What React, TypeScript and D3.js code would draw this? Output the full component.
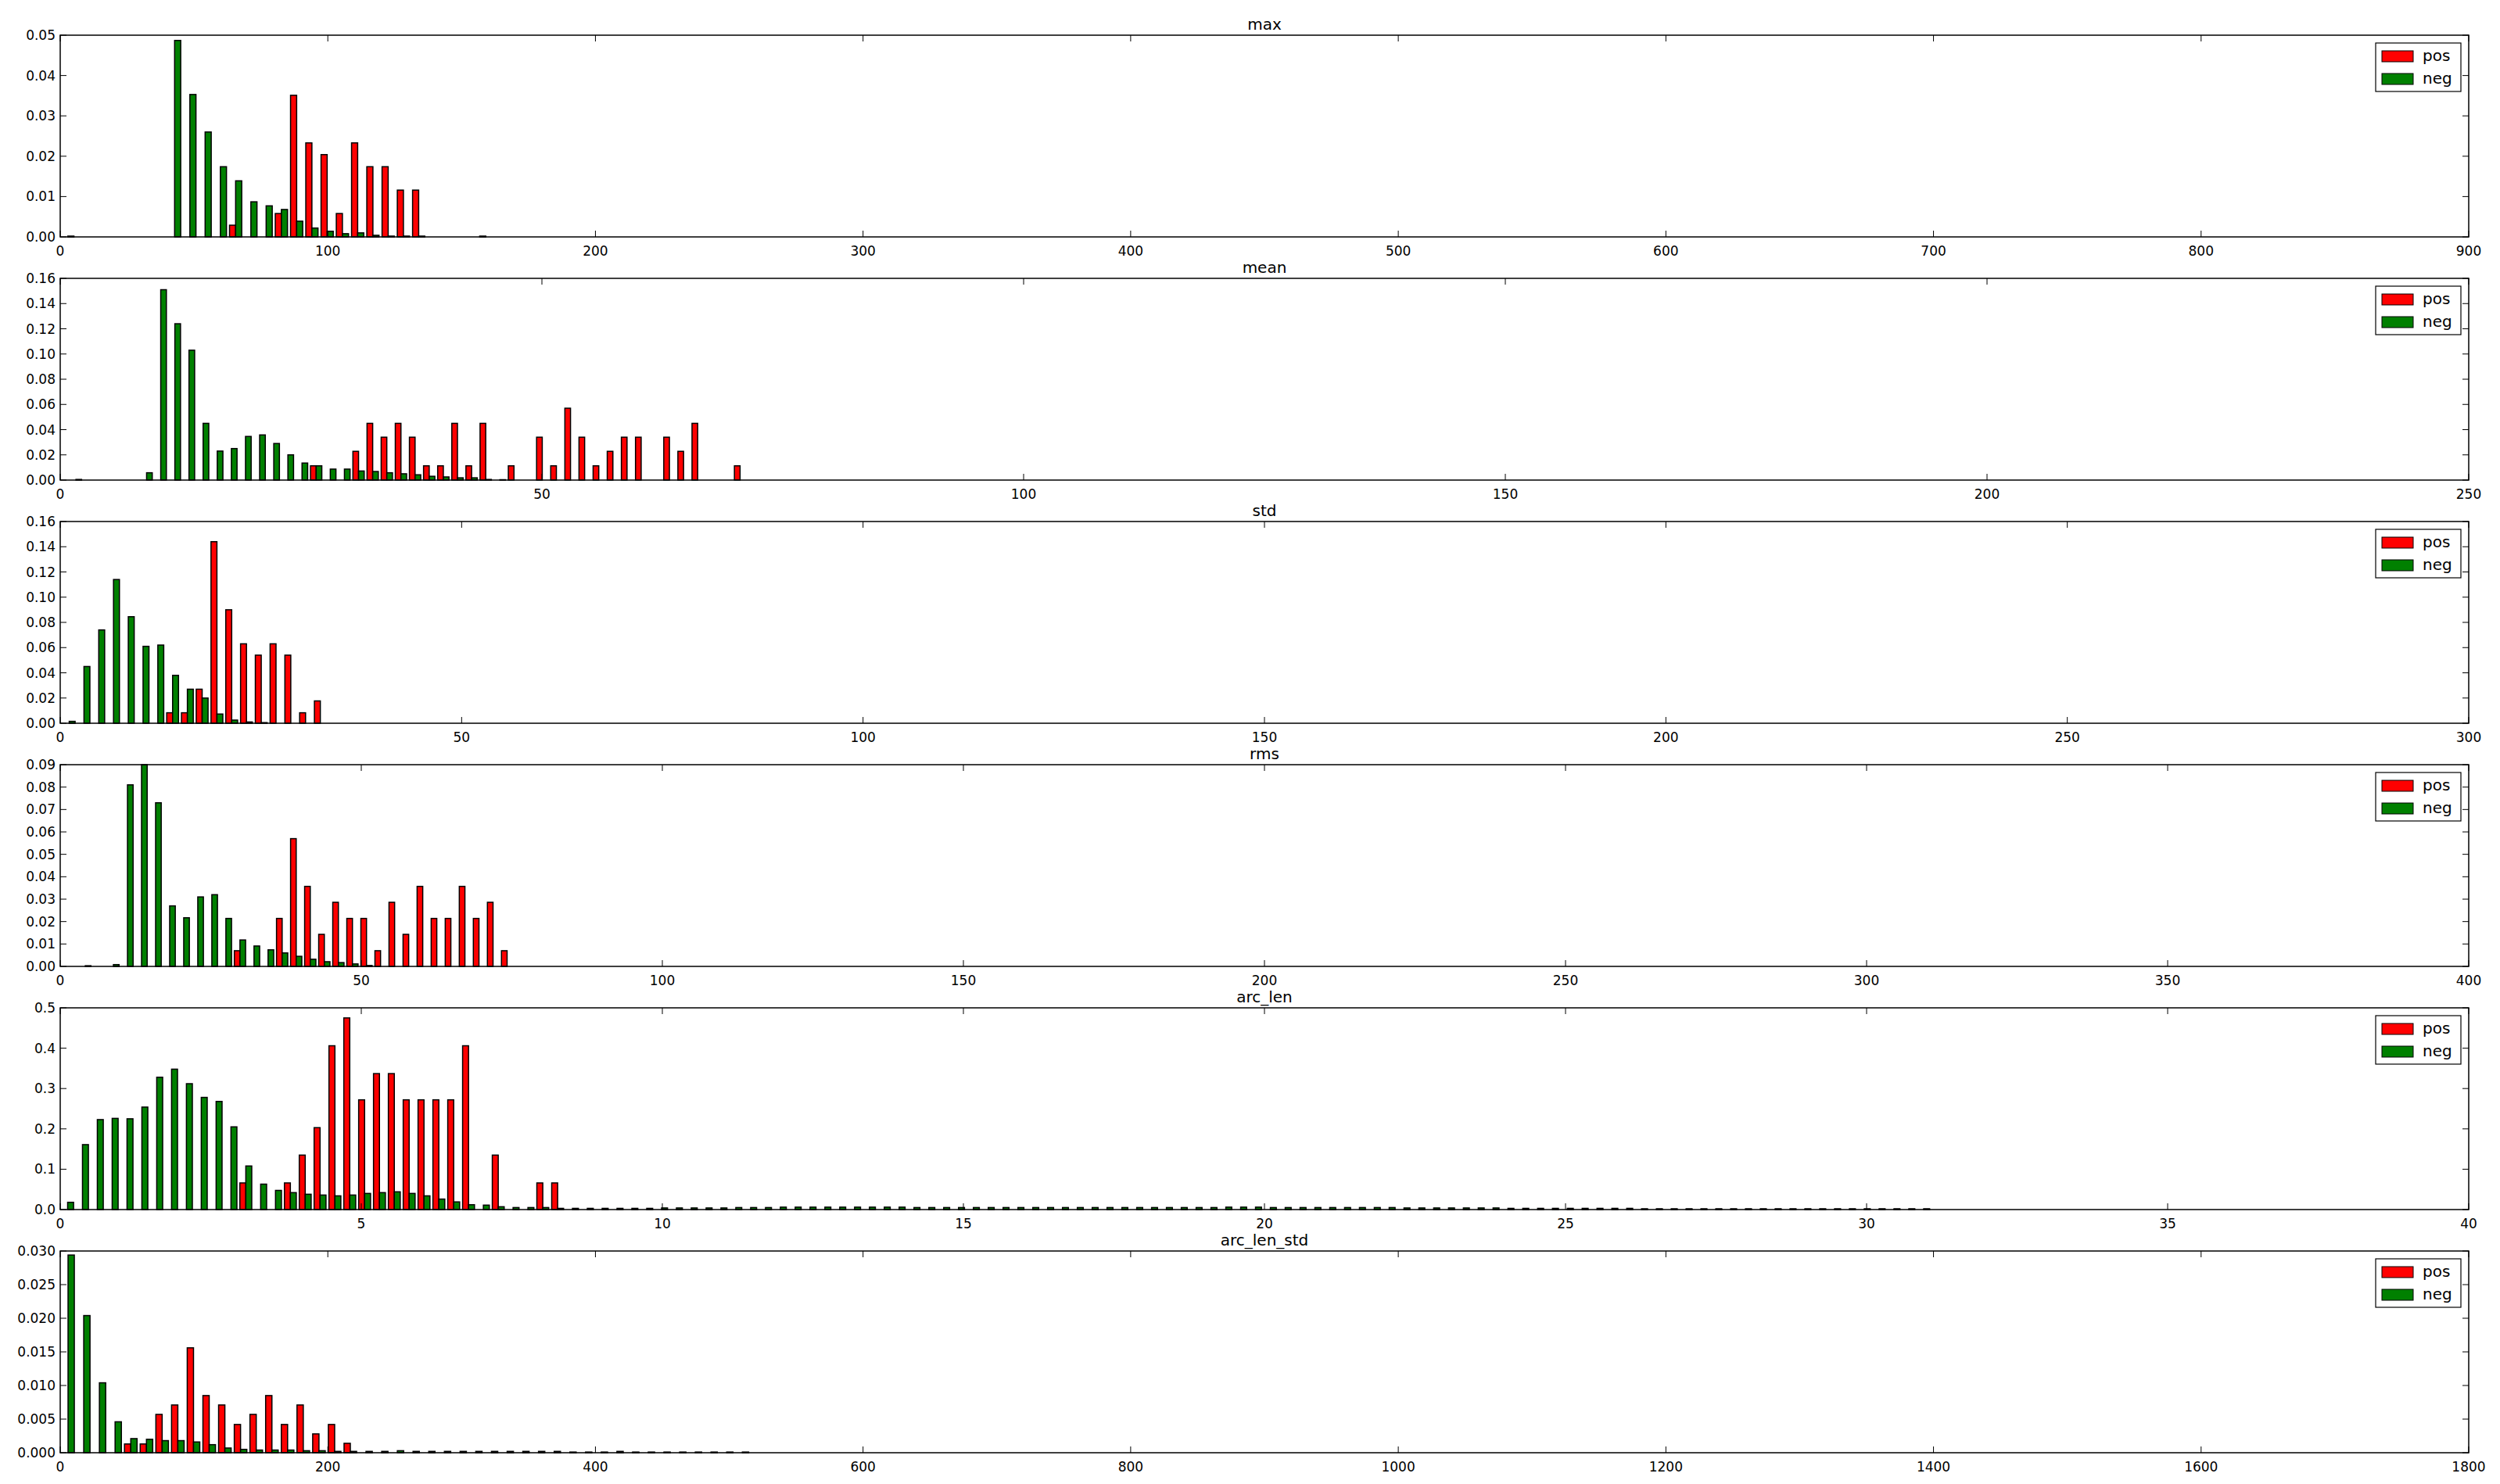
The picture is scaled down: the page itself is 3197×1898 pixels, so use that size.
import { useEffect, useRef } from 'react'
import * as d3 from 'd3'

// 각 패널: 히스토그램 bin 시작, bin 폭, pos / neg 값 (bin 순서)
const titles = ['max', 'mean', 'std', 'rms', 'arc_len', 'arc_len_std']
const xMaxes = [900, 250, 300, 400, 40, 1800]
const xSteps = [100, 50, 50, 50, 5, 200]
const yMaxes = [0.05, 0.16, 0.16, 0.09, 0.5, 0.03]
const ySteps = [0.01, 0.02, 0.02, 0.01, 0.1, 0.005]
const yDigits = [2, 2, 2, 2, 1, 3]
const binStarts = [0, 0.9, 0.2, 3.0, 0, 0]
const binWidths = [5.7, 1.4667, 1.84, 2.335, 0.2466, 11.72]

const maxPos = [0, 0, 0, 0, 0, 0, 0, 0, 0, 0, 0, 0.0029, 0, 0, 0.0058, 0.0351, 0.0233, 0.0204, 0.0058, 0.0233, 0.0174, 0.0174, 0.0116, 0.0116]
const maxNeg = [0.0002, 0, 0, 0, 0, 0, 0, 0.0487, 0.0353, 0.026, 0.0174, 0.0139, 0.0087, 0.0077, 0.0068, 0.0039, 0.0022, 0.0014, 0.0008, 0.001, 0.0004, 0.0002, 0.0002, 0.0002, 0, 0, 0, 0.0002]

const meanPos = [0, 0, 0, 0, 0, 0, 0, 0, 0, 0, 0, 0, 0, 0, 0, 0, 0, 0.0113, 0, 0, 0.0228, 0.045, 0.034, 0.045, 0.034, 0.0113, 0.0113, 0.045, 0.0113, 0.045, 0, 0.0113, 0, 0.034, 0.0113, 0.057, 0.034, 0.0113, 0.0228, 0.034, 0.034, 0, 0.034, 0.0228, 0.045, 0, 0, 0.0113]
const meanNeg = [0.0005, 0, 0, 0, 0, 0.0058, 0.151, 0.124, 0.103, 0.045, 0.023, 0.025, 0.0346, 0.0358, 0.029, 0.02, 0.0135, 0.0113, 0.0087, 0.0087, 0.0072, 0.0068, 0.0058, 0.005, 0.0042, 0.003, 0.0025, 0.0018, 0.0018, 0.0005, 0.0003]

const stdPos = [0, 0, 0, 0, 0, 0, 0, 0.0083, 0.0083, 0.027, 0.144, 0.09, 0.063, 0.054, 0.063, 0.054, 0.0083, 0.0177]
const stdNeg = [0.0015, 0.045, 0.074, 0.114, 0.0845, 0.061, 0.062, 0.038, 0.027, 0.02, 0.0073, 0.0025, 0.001, 0.0005]

const rmsPos = [0, 0, 0, 0, 0, 0, 0, 0, 0, 0, 0, 0.007, 0, 0, 0.0214, 0.057, 0.0357, 0.0143, 0.0286, 0.0214, 0.0214, 0.007, 0.0286, 0.0143, 0.0357, 0.0214, 0.0214, 0.0357, 0.0214, 0.0286, 0.007]
const rmsNeg = [0.0003, 0, 0.0008, 0.081, 0.09, 0.073, 0.027, 0.0217, 0.031, 0.032, 0.0214, 0.0118, 0.0091, 0.0074, 0.006, 0.0045, 0.0032, 0.0021, 0.0017, 0.0011, 0.0004]

const arcPos = [0, 0, 0, 0, 0, 0, 0, 0, 0, 0, 0, 0, 0.066, 0, 0, 0.066, 0.135, 0.203, 0.406, 0.475, 0.272, 0.337, 0.337, 0.272, 0.272, 0.272, 0.272, 0.406, 0, 0.135, 0, 0, 0.066, 0.066]
const arcNeg = [
  0.018, 0.161, 0.223, 0.226, 0.225, 0.254, 0.328, 0.348, 0.312, 0.278, 0.268, 0.205, 0.108, 0.063, 0.0475, 0.042,
  0.038, 0.036, 0.034, 0.036, 0.04, 0.042, 0.044, 0.04, 0.034, 0.026, 0.019, 0.012, 0.011, 0.007, 0.005, 0.005,
  0.005, 0.003, 0.003, 0.003, 0.003, 0.003, 0.003, 0.003, 0.004, 0.004, 0.004, 0.004, 0.004, 0.005, 0.005, 0.005,
  0.006, 0.006, 0.006, 0.006, 0.006, 0.006, 0.006, 0.006, 0.006, 0.005, 0.005, 0.005, 0.005, 0.005, 0.005, 0.005,
  0.005, 0.005, 0.005, 0.005, 0.005, 0.005, 0.005, 0.005, 0.005, 0.005, 0.005, 0.005, 0.005, 0.005, 0.006, 0.006,
  0.006, 0.005, 0.005, 0.005, 0.005, 0.005, 0.005, 0.005, 0.005, 0.005, 0.004, 0.004, 0.004, 0.004, 0.004, 0.004,
  0.004, 0.003, 0.003, 0.003, 0.003, 0.003, 0.003, 0.003, 0.003, 0.003, 0.002, 0.002, 0.002, 0.002, 0.002, 0.002,
  0.002, 0.002, 0.002, 0.002, 0.002, 0.002, 0.002, 0.002, 0.002, 0.002, 0.002, 0.002, 0.002, 0.002
]

const arcStdPos = [0, 0, 0, 0, 0.0013, 0.0013, 0.0057, 0.0071, 0.0156, 0.0085, 0.0071, 0.0042, 0.0057, 0.0085, 0.0042, 0.0071, 0.0028, 0.0042, 0.0014]
const arcStdNeg = [
  0.0294, 0.0204, 0.0104, 0.0046, 0.0021, 0.002, 0.0018, 0.0018, 0.0016, 0.0012, 0.0007, 0.0005, 0.0004, 0.0004, 0.0004, 0.0003,
  0.0003, 0.0002, 0.0002, 0.0002, 0.0002, 0.0003, 0.0002, 0.0002, 0.0002, 0.0002, 0.0002, 0.0002, 0.0002, 0.0002, 0.0002, 0.0002,
  0.0001, 0.0001, 0.0001, 0.0002, 0.0001, 0.0001, 0.0001, 0.0001, 0.0001, 0.0001, 0.0001, 0.0001
]

const posSeries = [maxPos, meanPos, stdPos, rmsPos, arcPos, arcStdPos]
const negSeries = [maxNeg, meanNeg, stdNeg, rmsNeg, arcNeg, arcStdNeg]
const legendLabels = ['pos', 'neg']
const colors = ['#ff0000', '#008000']

export default function App() {
  const svgRef = useRef<SVGSVGElement>(null)

  useEffect(() => {
    document.body.style.margin = '0'
    if (!svgRef.current) return
    const svg = d3.select(svgRef.current)
    svg.selectAll('*').remove()

    const width = 3197
    const height = 1898
    const left = 77
    const right = 3157
    const panelH = 258
    const font = 'DejaVu Sans, sans-serif'

    svg.attr('width', width).attr('height', height).style('background', '#fff')

    titles.forEach((title, i) => {
      const top = 45 + i * 311
      const g = svg.append('g').attr('transform', `translate(0,${top})`)
      const x = d3.scaleLinear().domain([0, xMaxes[i]]).range([left, right])
      const y = d3.scaleLinear().domain([0, yMaxes[i]]).range([panelH, 0])
      const w = binWidths[i]
      const bw = x(0.4 * w) - x(0)

      const series = [posSeries[i], negSeries[i]]
      series.forEach((vals, s) => {
        g.selectAll(`.bar${s}`)
          .data(vals.map((v, k) => ({ v, k })).filter(d => d.v > 0))
          .enter()
          .append('rect')
          .attr('x', d => x(binStarts[i] + d.k * w + (0.1 + 0.4 * s) * w))
          .attr('y', d => y(Math.min(d.v, yMaxes[i])))
          .attr('width', bw)
          .attr('height', d => panelH - y(Math.min(d.v, yMaxes[i])))
          .attr('fill', colors[s])
          .attr('stroke', '#000')
          .attr('stroke-width', 1.5)
      })

      // 축 틱
      const xt = d3.range(0, xMaxes[i] + xSteps[i] / 2, xSteps[i])
      const yt = d3.range(0, yMaxes[i] + ySteps[i] / 2, ySteps[i])
      xt.forEach(t => {
        g.append('line').attr('x1', x(t)).attr('x2', x(t)).attr('y1', panelH).attr('y2', panelH - 8).attr('stroke', '#000')
        g.append('line').attr('x1', x(t)).attr('x2', x(t)).attr('y1', 0).attr('y2', 8).attr('stroke', '#000')
        g.append('text').attr('x', x(t)).attr('y', panelH + 24).attr('text-anchor', 'middle')
          .style('font-family', font).style('font-size', '17px').text(String(t))
      })
      yt.forEach(t => {
        g.append('line').attr('x1', left).attr('x2', left + 8).attr('y1', y(t)).attr('y2', y(t)).attr('stroke', '#000')
        g.append('line').attr('x1', right).attr('x2', right - 8).attr('y1', y(t)).attr('y2', y(t)).attr('stroke', '#000')
        g.append('text').attr('x', left - 6).attr('y', y(t) + 6).attr('text-anchor', 'end')
          .style('font-family', font).style('font-size', '17px').text(t.toFixed(yDigits[i]))
      })

      g.append('rect').attr('x', left).attr('y', 0).attr('width', right - left).attr('height', panelH)
        .attr('fill', 'none').attr('stroke', '#000').attr('stroke-width', 1.5)

      g.append('text').attr('x', (left + right) / 2).attr('y', -7).attr('text-anchor', 'middle')
        .style('font-family', font).style('font-size', '20px').text(title)

      // 범례
      const lg = g.append('g').attr('transform', `translate(${right - 119},${10})`)
      lg.append('rect').attr('width', 109).attr('height', 62).attr('fill', '#fff').attr('stroke', '#000').attr('stroke-width', 1.2)
      legendLabels.forEach((lab, s) => {
        lg.append('rect').attr('x', 8).attr('y', 10 + s * 29).attr('width', 40).attr('height', 14)
          .attr('fill', colors[s]).attr('stroke', '#000')
        lg.append('text').attr('x', 60).attr('y', 23 + s * 29)
          .style('font-family', font).style('font-size', '20px').text(lab)
      })
    })
  }, [])

  return <svg ref={svgRef}></svg>
}
